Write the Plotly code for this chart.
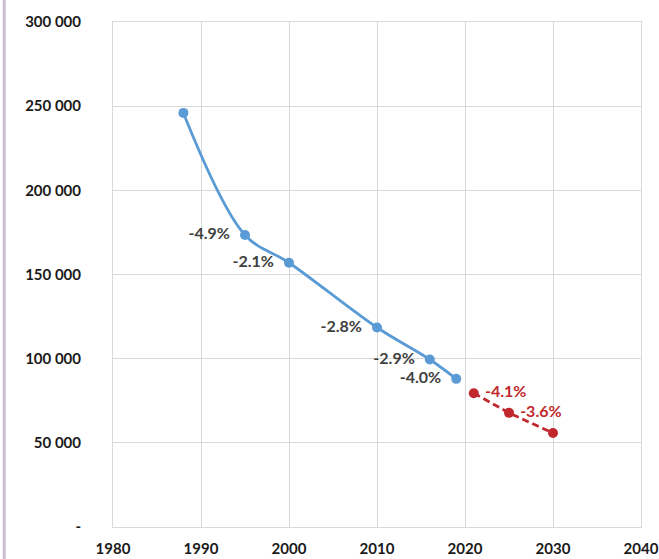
import plotly.graph_objects as go

# Historical series
hist_years = [1988, 1995, 2000, 2010, 2016, 2019]
hist_values = [246000, 173500, 157000, 118500, 99500, 88000]
hist_labels = ["", "-4.9%", "-2.1%", "-2.8%", "-2.9%", "-4.0%"]

# Projected series
proj_years = [2021, 2025, 2030]
proj_values = [79500, 67800, 55800]
proj_labels = ["-4.1%", "-3.6%", ""]

# Axis ticks
x_ticks = [1980, 1990, 2000, 2010, 2020, 2030, 2040]
y_ticks = [0, 50000, 100000, 150000, 200000, 250000, 300000]
y_tick_text = ["-", "50 000", "100 000", "150 000", "200 000", "250 000", "300 000"]

BLUE = "#5b9bd5"
RED = "#c0282d"
GRID = "#d9d9d9"
FONT = "Lato"

fig = go.Figure()

fig.add_trace(go.Scatter(
    x=hist_years, y=hist_values,
    mode="lines+markers+text",
    line=dict(color=BLUE, width=2.8, shape="spline", smoothing=1.0),
    marker=dict(color=BLUE, size=10),
    text=hist_labels,
    texttemplate="%{text}  ",
    textposition="middle left",
    textfont=dict(family=FONT, size=16, color="#404040", weight="bold"),
    showlegend=False,
    cliponaxis=False,
))

fig.add_trace(go.Scatter(
    x=proj_years, y=proj_values,
    mode="lines+markers+text",
    line=dict(color=RED, width=2.8, dash="7px,4px"),
    marker=dict(color=RED, size=10),
    text=proj_labels,
    texttemplate=" %{text}",
    textposition="middle right",
    textfont=dict(family=FONT, size=16, color=RED, weight="bold"),
    showlegend=False,
    cliponaxis=False,
))

fig.update_layout(
    width=659, height=559,
    margin=dict(l=113, r=18, t=22, b=32),
    paper_bgcolor="white",
    plot_bgcolor="white",
    font=dict(family=FONT, size=15, color="#1a1a1a"),
    shapes=[dict(
        type="line", xref="paper", yref="paper",
        x0=-0.206, x1=-0.206, y0=-0.07, y1=1.05,
        line=dict(color="#c9bfd0", width=3),
    )],
)

fig.update_xaxes(
    range=[1980, 2040],
    tickvals=x_ticks,
    showgrid=True, gridcolor=GRID, gridwidth=1,
    showline=True, linecolor=GRID, mirror=True,
    zeroline=False,
    ticks="",
    automargin=False,
    ticklabelstandoff=8,
    tickfont=dict(family=FONT, size=15, color="#1a1a1a", weight="bold"),
)

fig.update_yaxes(
    range=[0, 300000],
    tickvals=y_ticks,
    ticktext=y_tick_text,
    showgrid=True, gridcolor=GRID, gridwidth=1,
    showline=True, linecolor=GRID, mirror=True,
    zeroline=False,
    ticks="",
    automargin=False,
    ticklabelstandoff=28,
    tickfont=dict(family=FONT, size=15, color="#1a1a1a", weight="bold"),
)

fig.write_html("out.html")
